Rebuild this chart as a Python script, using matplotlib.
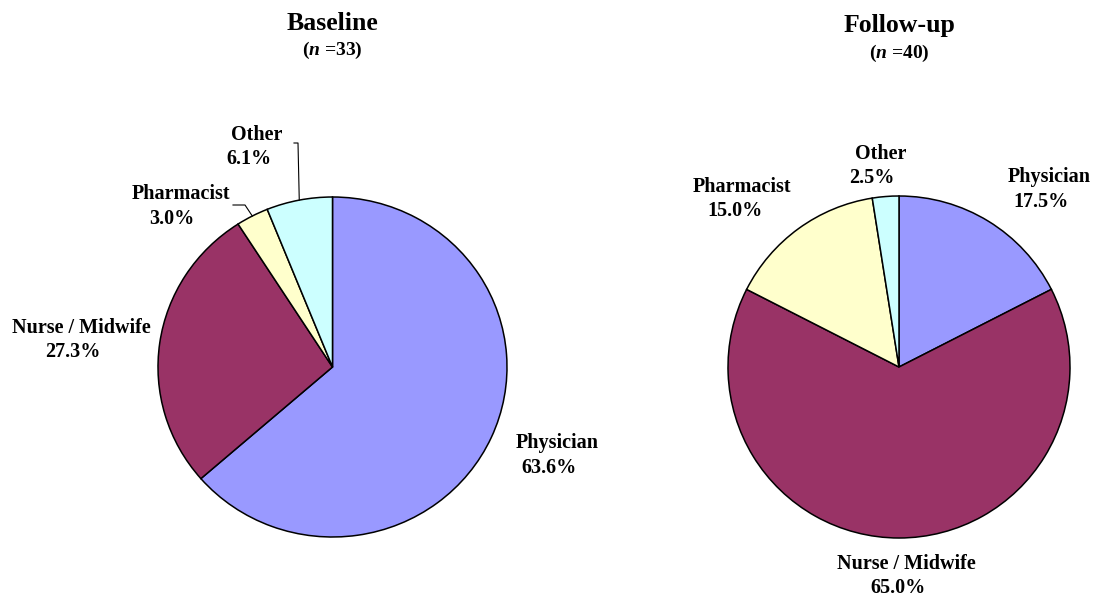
import matplotlib
matplotlib.use("Agg")
import matplotlib.pyplot as plt
import matplotlib.transforms as mtransforms
import numpy as np

# Respondent profession shares (%)
categories = ["Physician", "Nurse / Midwife", "Pharmacist", "Other"]
baseline = [63.6, 27.3, 3.0, 6.1]
followup = [17.5, 65.0, 15.0, 2.5]
titles = ["Baseline", "Follow-up"]
sample_sizes = [33, 40]
colors = ["#9999FF", "#993366", "#FFFFCC", "#CCFFFF"]

W, H = 1093, 598
plt.rcParams["font.family"] = ["Liberation Serif", "DejaVu Serif"]
plt.rcParams["mathtext.fontset"] = "custom"
plt.rcParams["mathtext.rm"] = "Liberation Serif:bold"
plt.rcParams["mathtext.bf"] = "Liberation Serif:bold"
plt.rcParams["mathtext.it"] = "Liberation Serif:italic:bold"
plt.rcParams["mathtext.bfit"] = "Liberation Serif:italic:bold"

fig = plt.figure(figsize=(W / 100, H / 100), dpi=100)
ax = fig.add_axes([0, 0, 1, 1])


def y(py):
    # convert a top-down pixel row into the axes' upward y
    return H - py


LABEL_FS = 14.5

# label layout: (name x, name baseline, value x, value baseline), pixel rows from top
panels = [
    dict(values=baseline, center=(332.5, 367), radius=170, stretch=174.5 / 170,
         title_base=30, n_base=55,
         labels={"Physician": (557, 448, 549, 473),
                 "Nurse / Midwife": (81, 333, 73, 357),
                 "Pharmacist": (181, 199, 172, 224),
                 "Other": (257, 140, 249, 164)},
         leaders={"Other": [(294, 143), (298, 143)],
                  "Pharmacist": [(233, 205), (245, 205)]}),
    dict(values=followup, center=(899, 367), radius=171, stretch=1.0,
         title_base=32, n_base=58,
         labels={"Physician": (1049, 182, 1041, 207),
                 "Nurse / Midwife": (906, 569, 898, 593),
                 "Pharmacist": (742, 192, 735, 216),
                 "Other": (881, 159, 872, 183)},
         leaders={}),
]

for panel, title, n in zip(panels, titles, sample_sizes):
    cx, cy = panel["center"]
    r = panel["radius"]
    sx = panel["stretch"]
    vals = panel["values"]
    wedges, _ = ax.pie(vals, colors=colors, startangle=90, counterclock=False,
                       center=(cx, y(cy)), radius=r, frame=True,
                       wedgeprops=dict(edgecolor="black", linewidth=1.1))
    # slight horizontal stretch of the pie about its centre
    stretch = (mtransforms.Affine2D().translate(-cx, -y(cy)).scale(sx, 1.0)
               .translate(cx, y(cy)))
    for w in wedges:
        w.set_transform(stretch + ax.transData)

    ax.text(cx, y(panel["title_base"]), title, ha="center", va="baseline",
            fontsize=18.5, fontweight="bold")
    ax.text(cx, y(panel["n_base"]), f"($\\mathit{{n}}$ ={n})", ha="center",
            va="baseline", fontsize=14, fontweight="bold")

    total = sum(vals)
    cum = np.cumsum([0] + list(vals))
    for cat, v, c0 in zip(categories, vals, cum[:-1]):
        nx, nb, vx, vb = panel["labels"][cat]
        ax.text(nx, y(nb), cat, ha="center", va="baseline",
                fontsize=LABEL_FS, fontweight="bold")
        ax.text(vx, y(vb), f"{v:.1f}%", ha="center", va="baseline",
                fontsize=LABEL_FS, fontweight="bold")
        if cat in panel["leaders"]:
            # leader ends at the slice's outer mid-point
            frac = (c0 + v / 2) / total
            theta = np.deg2rad(90 - 360 * frac)
            ex = cx + sx * r * np.cos(theta)
            ey = y(cy) + r * np.sin(theta)
            pts = panel["leaders"][cat]
            xs = [p[0] for p in pts] + [ex]
            ys = [y(p[1]) for p in pts] + [ey]
            ax.plot(xs, ys, color="black", linewidth=0.8)

ax.set_xlim(0, W)
ax.set_ylim(0, H)
ax.set_aspect("equal")
ax.axis("off")

fig.savefig("out.png", dpi=100)
